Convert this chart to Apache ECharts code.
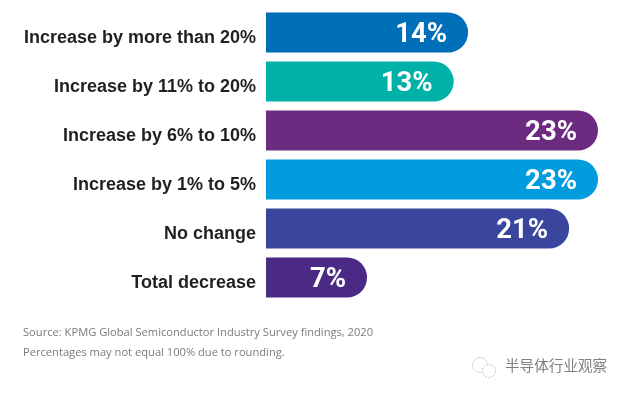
<!DOCTYPE html>
<html><head><meta charset="utf-8">
<style>html,body{margin:0;padding:0;background:#fff}#c{width:628px;height:394px}</style>
<script src="https://cdn.jsdelivr.net/npm/echarts@6/dist/echarts.min.js"></script>
</head><body><div id="c"></div>
<script>
const categories=["Increase by more than 20%","Increase by 11% to 20%","Increase by 6% to 10%","Increase by 1% to 5%","No change","Total decrease"];
const values=[14,13,23,23,21,7];
const colors=["#006FBA","#00B1A7","#6C2A80","#009CDE","#3A459D","#4A2A84"];
const sourceNote="Source: KPMG Global Semiconductor Industry Survey findings, 2020";
const roundingNote="Percentages may not equal 100% due to rounding.";
const watermark="半导体行业观察";
const chart=echarts.init(document.getElementById('c'),null,{renderer:'canvas'});
chart.setOption({
  animation:false,
  grid:{left:266,top:8,width:332,height:294,containLabel:false},
  xAxis:{type:'value',min:0,max:23,show:false},
  yAxis:{type:'category',inverse:true,data:categories,axisLine:{show:false},axisTick:{show:false},
    axisLabel:{margin:10,color:'#231F20',fontFamily:'Liberation Sans',fontWeight:'bold',fontSize:18,verticalAlign:'top',lineHeight:12}},
  series:[{type:'bar',barWidth:40,data:values.map((v,i)=>({value:v,itemStyle:{color:colors[i]}})),
    itemStyle:{borderRadius:[0,20,20,0]},
    label:{show:true,position:'insideRight',distance:21,offset:[0,3],formatter:'{c}%',color:'#fff',fontFamily:'Roboto',fontWeight:'bold',fontSize:27.5}}],
  graphic:[
    {type:'text',left:23,top:327,style:{text:sourceNote,fill:'#7A7B7E',font:'11.15px "Open Sans"'}},
    {type:'text',left:23,top:347,style:{text:roundingNote,fill:'#7A7B7E',font:'11.15px "Open Sans"'}},
    {type:'text',left:505,top:358,style:{text:watermark,fill:'#808080',font:'14.6px "Noto Sans CJK SC"'}},
    {type:'circle',shape:{cx:480,cy:365,r:7.5},style:{fill:'none',stroke:'#c8c8c8',lineWidth:1,lineDash:[2,1]}},
    {type:'circle',shape:{cx:489,cy:371,r:6.5},style:{fill:'#fff',stroke:'#c8c8c8',lineWidth:1,lineDash:[2,1]}}
  ]
});
</script></body></html>
